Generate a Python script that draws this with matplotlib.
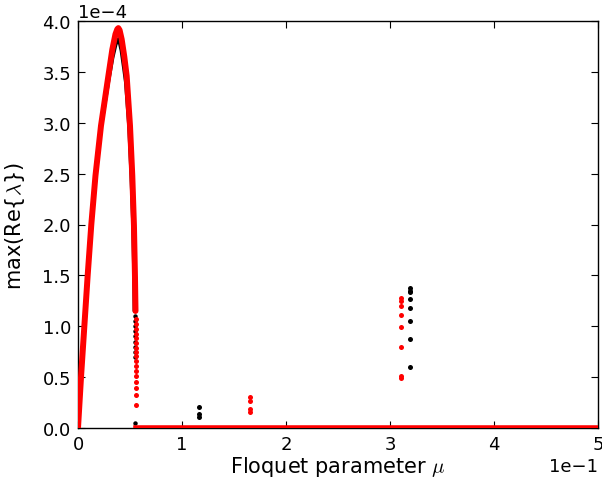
import matplotlib
matplotlib.use("Agg")
import matplotlib.pyplot as plt
import numpy as np

plt.rcParams['mathtext.fontset'] = 'cm'

# Main red branch (x in mu units, y in units of 1e-4)
red_x = [0.0, 0.0029, 0.0061, 0.0093, 0.0128, 0.0168, 0.0221, 0.0292, 0.0330, 0.0360,
         0.0378, 0.0388, 0.0400, 0.0420, 0.0445, 0.0468, 0.0500, 0.0522, 0.0538,
         0.0548, 0.0553]
red_y = [0.0, 0.50, 1.00, 1.50, 2.00, 2.48, 2.97, 3.46, 3.72, 3.87,
         3.92, 3.93, 3.91, 3.82, 3.65, 3.46, 2.97, 2.48, 1.99,
         1.48, 1.15]
# red drop-off dots near mu ~ 0.0558
red_drop_x = [0.0558] * 17
red_drop_y = [1.07, 1.02, 0.97, 0.92, 0.88, 0.835, 0.79, 0.75, 0.71, 0.66,
              0.61, 0.56, 0.51, 0.455, 0.39, 0.32, 0.23]
# red zero line
red_zero_x = [0.0558, 0.5]
red_zero_y = [0.0, 0.0]
# isolated red points
red_iso_x = [0.1654, 0.1654, 0.1654, 0.1654,
             0.3109, 0.3109, 0.3109, 0.3109, 0.3109, 0.3109, 0.3109, 0.3109]
red_iso_y = [0.30, 0.27, 0.19, 0.155,
             1.28, 1.25, 1.20, 1.115, 0.99, 0.80, 0.515, 0.495]

# Main black branch
black_x = [0.0, 0.0029, 0.0061, 0.0093, 0.0128, 0.0168, 0.0221, 0.0292, 0.0330, 0.0360,
           0.0378, 0.0388, 0.0400, 0.0420, 0.0445, 0.0462, 0.0493, 0.0515, 0.0532,
           0.0542, 0.0545]
black_y = [0.0, 0.50, 1.00, 1.50, 2.00, 2.48, 2.97, 3.42, 3.64, 3.77,
           3.81, 3.82, 3.80, 3.71, 3.53, 3.40, 2.97, 2.48, 1.99,
           1.48, 1.15]
black_drop_x = [0.0545] * 9 + [0.0550]
black_drop_y = [1.10, 1.05, 1.00, 0.95, 0.90, 0.85, 0.80, 0.75, 0.70, 0.05]
black_iso_x = [0.1167, 0.1167, 0.1167,
               0.3190, 0.3190, 0.3190, 0.3190, 0.3190, 0.3190, 0.3190, 0.3190]
black_iso_y = [0.203, 0.138, 0.111,
               1.373, 1.349, 1.333, 1.268, 1.179, 1.055, 0.875, 0.597]

scale = 1e-4

fig = plt.figure(figsize=(6.02, 4.81), dpi=100)
ax = fig.add_axes([78/602, 52/481, 520/602, 407/481])

def s(v):
    return np.array(v) * scale

# black first
ax.plot(black_x, s(black_y), '-', color='black', lw=3.0, solid_capstyle='round',
        solid_joinstyle='round', zorder=2)
ax.plot(black_drop_x, s(black_drop_y), 'o', color='black', ms=3.2, mew=0, zorder=2)
ax.plot(black_iso_x, s(black_iso_y), 'o', color='black', ms=3.6, mew=0, zorder=2)

# red on top
ax.plot(red_x, s(red_y), '-', color='red', lw=4.3, solid_capstyle='round',
        solid_joinstyle='round', zorder=3)
ax.plot(red_drop_x, s(red_drop_y), 'o', color='red', ms=3.6, mew=0, zorder=3)
ax.plot(red_zero_x, s(red_zero_y), '-', color='red', lw=4.0, zorder=3)
ax.plot(red_iso_x, s(red_iso_y), 'o', color='red', ms=3.6, mew=0, zorder=3)

ax.set_xlim(0, 0.5)
ax.set_ylim(0, 4e-4)
ax.set_xticks([0, 0.1, 0.2, 0.3, 0.4, 0.5])
ax.set_yticks(np.arange(0, 4.01e-4, 0.5e-4))
ax.ticklabel_format(style='sci', axis='both', scilimits=(0, 0))
ax.tick_params(direction='in', length=5, width=0.8, top=True, right=True,
               labelsize=13, pad=5)
ax.xaxis.get_offset_text().set_fontsize(13)
ax.yaxis.get_offset_text().set_fontsize(13)
for sp in ax.spines.values():
    sp.set_linewidth(1.0)
    sp.set_zorder(1)

ax.set_xlabel(r'Floquet parameter $\mu$', fontsize=15, labelpad=1)
ax.set_ylabel(r'max(Re{$\lambda$})', fontsize=15, labelpad=4)
ax.yaxis.set_label_coords(-0.098, 0.5)

fig.savefig('out.png', dpi=100, facecolor='white')
